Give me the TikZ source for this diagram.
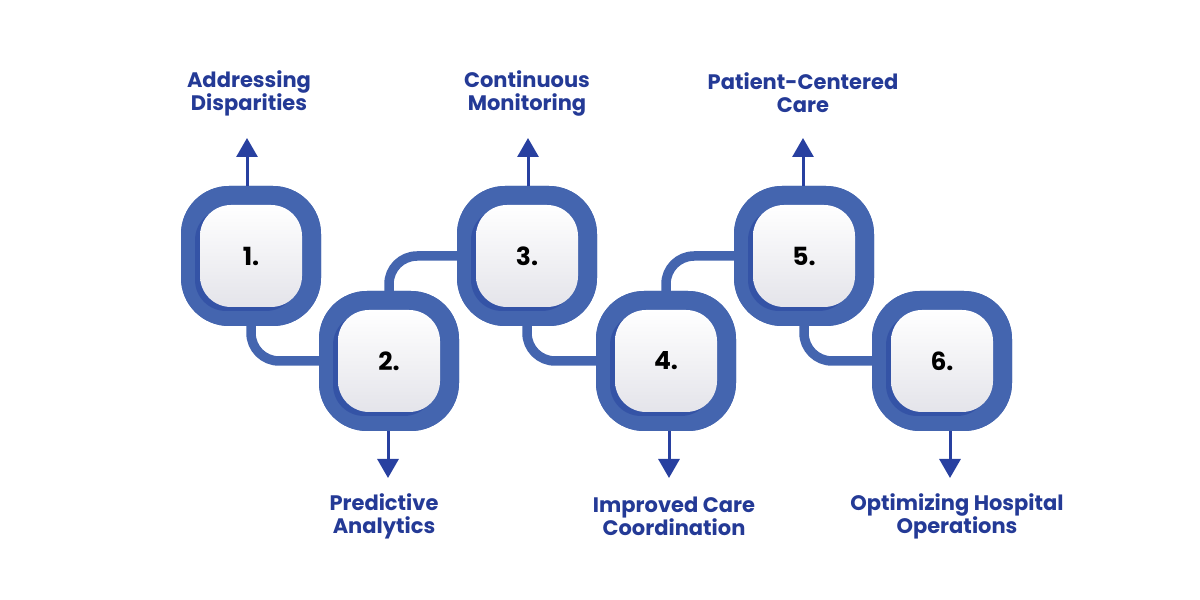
\documentclass[tikz,border=0pt]{standalone}
\usepackage{fontspec}
\setmainfont{Poppins}
\usepackage{xcolor}
\usepackage{tikz}
\usetikzlibrary{arrows.meta, positioning, shadows}
\definecolor{ringblue}{RGB}{68, 101, 175}
\definecolor{ringdark}{RGB}{38, 66, 158}
\definecolor{arrblue}{RGB}{40, 64, 160}
\definecolor{textblue}{RGB}{36, 58, 150}
\definecolor{tilegray}{RGB}{228, 228, 234}

\begin{document}
\begin{tikzpicture}[
    x=1pt, y=1pt,
    ring/.style={
      rectangle, rounded corners=48pt, fill=ringblue,
      minimum width=140pt, minimum height=140pt, inner sep=0pt
    },
    tile/.style={
      rectangle, rounded corners=31pt, minimum width=102pt, minimum height=102pt,
      top color=white, bottom color=tilegray, inner sep=0pt,
      drop shadow={shadow xshift=-5pt, shadow yshift=-4pt, fill=ringdark, opacity=0.5},
      font=\fontsize{25}{28}\selectfont\bfseries, text=black
    },
    lbl/.style={align=center, font=\fontsize{21}{23}\selectfont\bfseries, text=textblue},
    link/.style={draw=ringblue, line width=9.5pt, rounded corners=28pt},
    arr/.style={-{Triangle[width=21pt, length=19pt]}, line width=3pt, color=arrblue}
]
  \useasboundingbox (0,0) rectangle (1200,600);

  % rings
  \node[ring] (b1) at (251,344) {};
  \node[ring] (b2) at (389,239) {};
  \node[ring] (b3) at (527,344) {};
  \node[ring] (b4) at (666,239) {};
  \node[ring] (b5) at (804,344) {};
  \node[ring] (b6) at (942,239) {};

  % links between the rings
  \draw[link] (b1.south) |- (b2.west);
  \draw[link] (b2.north) |- (b3.west);
  \draw[link] (b3.south) |- (b4.west);
  \draw[link] (b4.north) |- (b5.west);
  \draw[link] (b5.south) |- (b6.west);

  % redraw rings over link ends
  \node[ring] at (b1) {};
  \node[ring] at (b2) {};
  \node[ring] at (b3) {};
  \node[ring] at (b4) {};
  \node[ring] at (b5) {};
  \node[ring] at (b6) {};

  \node[tile] (t1) at (b1) {1.};
  \node[tile] (t2) at (b2) {2.};
  \node[tile] (t3) at (b3) {3.};
  \node[tile] (t4) at (b4) {4.};
  \node[tile] (t5) at (b5) {5.};
  \node[tile] (t6) at (b6) {6.};

  % arrow tips
  \coordinate (a1) at (247,462);
  \coordinate (a2) at (388,122);
  \coordinate (a3) at (528,462);
  \coordinate (a4) at (669,122);
  \coordinate (a5) at (803,462);
  \coordinate (a6) at (950,122);

  \draw[arr] (a1 |- b1.north) -- (a1);
  \draw[arr] (a2 |- b2.south) -- (a2);
  \draw[arr] (a3 |- b3.north) -- (a3);
  \draw[arr] (a4 |- b4.south) -- (a4);
  \draw[arr] (a5 |- b5.north) -- (a5);
  \draw[arr] (a6 |- b6.south) -- (a6);

  % labels
  \node[lbl] (l1) at (249,507) {Addressing\\Disparities};
  \node[lbl] (l2) at (384,84)  {Predictive\\Analytics};
  \node[lbl] (l3) at (527,507) {Continuous\\Monitoring};
  \node[lbl] (l4) at (674,84)  {Improved Care\\Coordination};
  \node[lbl] (l5) at (803,507) {Patient-Centered\\Care};
  \node[lbl] (l6) at (957,84)  {Optimizing Hospital\\Operations};
\end{tikzpicture}
\end{document}
